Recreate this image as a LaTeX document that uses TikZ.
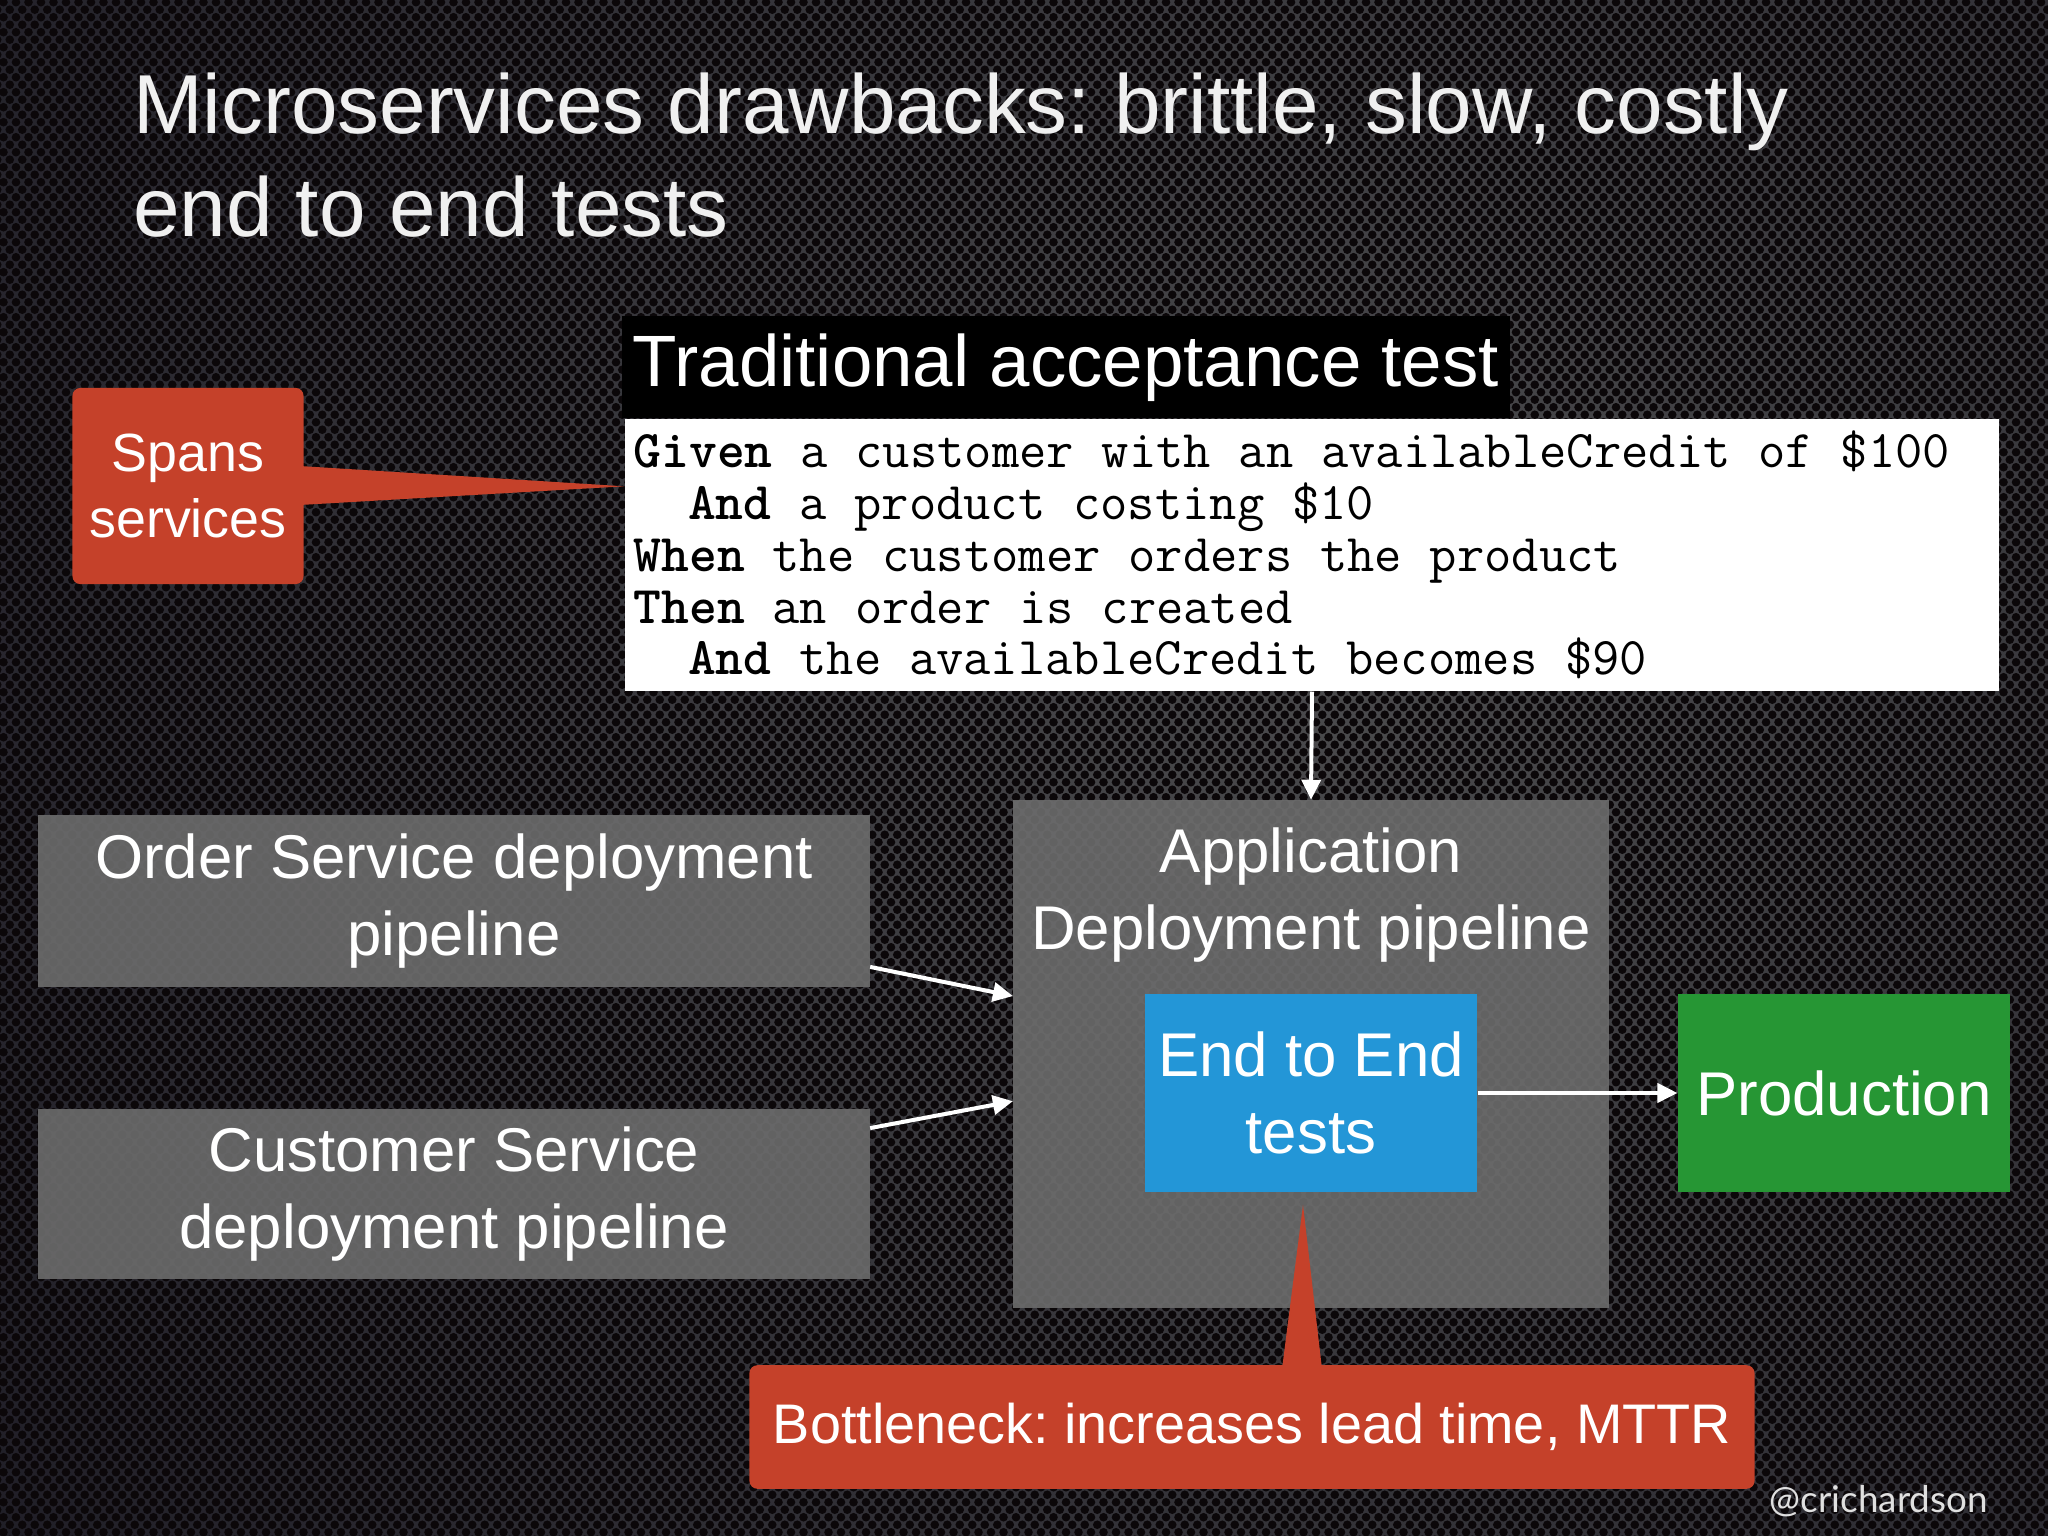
\documentclass[tikz,border=0pt]{standalone}
\usepackage{fontspec}
\setmainfont{Liberation Sans}
\newfontfamily\handlefont{Lato}
\usepackage{tikz}
\usetikzlibrary{arrows.meta,calc,patterns}
\frenchspacing
\definecolor{bginner}{RGB}{76,76,78}
\definecolor{bgouter}{RGB}{22,20,30}
\definecolor{holecol}{RGB}{11,7,9}
\definecolor{boxgray}{RGB}{108,108,108}
\definecolor{calloutred}{RGB}{197,65,42}
\definecolor{e2eblue}{RGB}{35,150,215}
\definecolor{prodgreen}{RGB}{38,150,52}
\newcommand\monospaces{\spaceskip 0.525em\relax\xspaceskip 0.525em\relax}
\pgfdeclarepatternformonly{perforation}{\pgfqpoint{-1bp}{-1bp}}{\pgfqpoint{14.5bp}{16.5bp}}{\pgfqpoint{12.5bp}{15bp}}{
	\pgfpathcircle{\pgfqpoint{3.5bp}{3.75bp}}{4.3bp}
	\pgfpathcircle{\pgfqpoint{9.75bp}{11.25bp}}{4.3bp}
	\pgfusepath{fill}
}

\begin{document}
\begin{tikzpicture}[
	x = 1bp, y = -1bp,
	titletext/.style = {text = white!94!black, inner sep = 0, font = \fontsize{84}{100}\selectfont},
	slidebox/.style = {fill = boxgray, fill opacity = 0.9, text opacity = 1, text = white, align = center, inner sep = 0, font = \fontsize{62}{78}\selectfont},
	colourbox/.style = {text = white, align = center, inner sep = 0, minimum width = 334, minimum height = 198, font = \fontsize{62}{78}\selectfont},
	callout/.style = {fill = calloutred, text = white, align = center, inner sep = 0, rounded corners = 8bp},
	arr/.style = {draw = white, line width = 4bp, -{Triangle[length = 20bp, width = 19bp]}}
	]
	\useasboundingbox (0,0) rectangle (2048,1536);
	\begin{scope}
		\clip (0,0) rectangle (2048,1536);
		\shade[inner color = bginner, outer color = bgouter] (1350,620) circle (2000);
		\fill[pattern = perforation, pattern color = holecol] (0,0) rectangle (2048,1536);
	\end{scope}
	\node[titletext, anchor = base west] (title1) at (133,134) {Microservices drawbacks: brittle, slow, costly};
	\node[titletext, anchor = base west] (title2) at (133,236) {end to end tests};
	\node[fill = white, text = black, inner sep = 0, align = left,
		minimum width = 1380, minimum height = 274, text width = 1362,
		font = \ttfamily\fontsize{53.2}{52}\selectfont] (code) at (1312,555)
		{\monospaces\textbf{Given} a customer with an availableCredit of \$100\\
		 \phantom{xx}\textbf{And} a product costing \$10\\
		 \textbf{When} the customer orders the product\\
		 \textbf{Then} an order is created\\
		 \phantom{xx}\textbf{And} the availableCredit becomes \$90};
	\node[fill = black, text = white, inner sep = 0, minimum width = 892, minimum height = 102,
		font = \fontsize{73}{80}\selectfont, anchor = south west] (trad) at ($(code.north west)+(-3,0)$) {Traditional acceptance test};
	\node[callout, minimum width = 232, minimum height = 197, font = \fontsize{54}{66}\selectfont] (spans) at (188,486) {Spans\\services};
	\fill[calloutred] ($(spans.east)+(-4,-20)$) -- ($(code.north west)+(0,68)$) -- ($(spans.east)+(-4,19)$) -- cycle;
	\node[slidebox, minimum width = 835, minimum height = 172] (order) at (454,901) {Order Service deployment\\pipeline};
	\node[slidebox, minimum width = 835, minimum height = 171] (customer) at (454,1194) {Customer Service\\deployment pipeline};
	\node[slidebox, minimum width = 598, minimum height = 510] (app) at (1311,1054) {};
	\node[slidebox, fill = none] (apptitle) at (1311,895) {Application\\Deployment pipeline};
	\node[colourbox, fill = e2eblue] (e2e) at (1311,1093) {End to End\\tests};
	\node[colourbox, fill = prodgreen] (prod) at (1844,1093) {Production};
	\draw[arr] (code.south) -- (app.north);
	\draw[arr] (order.-9.9) -- (app.169.8);
	\draw[arr] (customer.9.4) -- (app.189.5);
	\draw[arr] (e2e.east) -- (prod.west);
	\node[callout, minimum width = 1009, minimum height = 124, font = \fontsize{56}{66}\selectfont] (bottleneck) at (1252,1427) {Bottleneck: increases lead time, MTTR};
	\fill[calloutred] ($(bottleneck.north)+(30,4)$) -- ($(e2e.south)+(-8,13)$) -- ($(bottleneck.north)+(70,4)$) -- cycle;
	\node[text = white!88!black, inner sep = 0, anchor = base east, font = \handlefont\fontsize{37}{40}\selectfont] (handle) at (1988,1512) {@crichardson};
\end{tikzpicture}
\end{document}
